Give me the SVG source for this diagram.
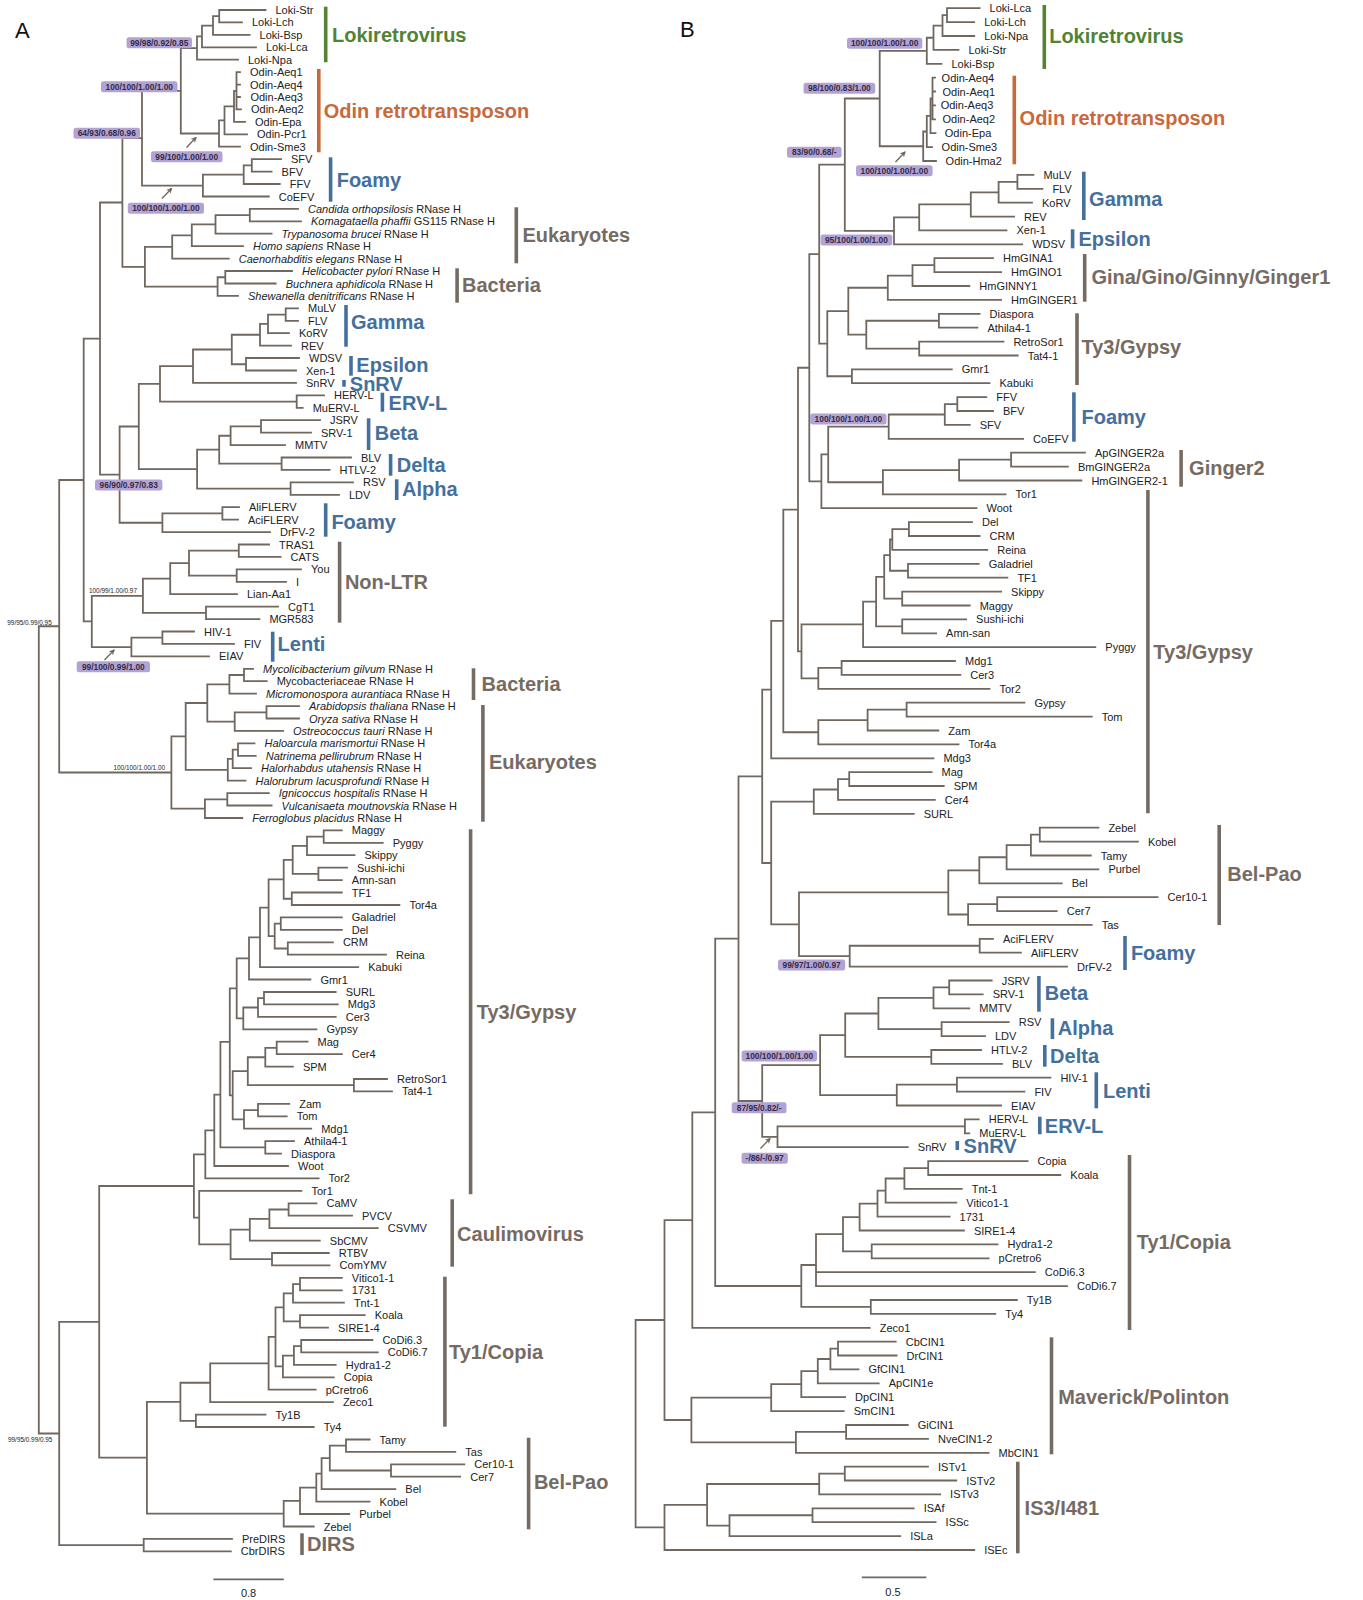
<svg xmlns="http://www.w3.org/2000/svg" width="1363" height="1600" viewBox="0 0 1363 1600">
<style>
.br{fill:none;stroke:#70675f;stroke-width:1.8;stroke-linecap:square}
.lf{font-family:"Liberation Sans",Arial,sans-serif;font-size:11px;fill:#222;dominant-baseline:central}
.it{font-style:italic}
.gl{font-family:"Liberation Sans",Arial,sans-serif;font-size:20px;font-weight:bold;dominant-baseline:central}
.bar{stroke-width:3.6}
.gr{fill:#548235;stroke:#548235}
.or{fill:#c8693c;stroke:#c8693c}
.bl{fill:#44709e;stroke:#44709e}
.bn{fill:#766b62;stroke:#766b62}
text.gr,text.or,text.bl,text.bn{stroke:none}
.bd rect{fill:#b3a3d4}
.bd text{font-family:"Liberation Sans",Arial,sans-serif;font-size:8.4px;font-weight:bold;fill:#352c42;text-anchor:middle;dominant-baseline:central}
.sm{font-family:"Liberation Sans",Arial,sans-serif;font-size:6.4px;fill:#222;dominant-baseline:central}
.ar{stroke:#70675f;stroke-width:1.3;fill:none}
.pl{font-family:"Liberation Sans",Arial,sans-serif;font-size:22px;fill:#111;dominant-baseline:central}
</style>
<defs>
<marker id="ah" viewBox="0 0 10 10" refX="8" refY="5" markerWidth="6" markerHeight="6" orient="auto" markerUnits="userSpaceOnUse"><path d="M0 0L10 5L0 10L3 5Z" fill="#70675f"/></marker>
</defs>
<rect width="1363" height="1600" fill="#fff"/>
<text class="pl" x="15" y="30">A</text>
<text class="pl" x="680" y="29">B</text>

<g id="connectors">
<path class="br" d="M219.2 10V22.4M219.2 10H265.5M219.2 22.4H242M213 16.2V34.9M213 16.2H219.2M213 34.9H249.6M202 25.55V47.3M202 25.55H213M202 47.3H256M197 36.4V59.7M197 36.4H202M197 59.7H238
M236.5 72.2V109.4M236.5 72.2H240M236.5 84.6H240M236.5 97H240M236.5 109.4H241M234 90.8V121.9M234 90.8H236.5M234 121.9H245M224.5 106.35V134.3M224.5 106.35H234M224.5 134.3H247M219 120.3V146.7M219 120.3H224.5M219 146.7H240M180.8 48.05V133.5M180.8 48.05H197M180.8 133.5H219
M251.8 159.2V171.6M251.8 159.2H281M251.8 171.6H271.6M243.7 165.4V184M243.7 165.4H251.8M243.7 184H279.8M202.9 174.7V196.5M202.9 174.7H243.7M202.9 196.5H268.8M142 90.8V185.6M142 90.8H180.8M142 185.6H202.9
M249.8 208.9V221.3M249.8 208.9H298M249.8 221.3H301M215.5 215.1V233.7M215.5 215.1H249.8M215.5 233.7H271.6M191.8 224.4V246.2M191.8 224.4H215.5M191.8 246.2H243M172.2 235.3V258.6M172.2 235.3H191.8M172.2 258.6H228.8
M225.3 271V283.5M225.3 271H292M225.3 283.5H275.7M217.6 277.25V295.9M217.6 277.25H225.3M217.6 295.9H238M144.9 246.95V286.6M144.9 246.95H172.2M144.9 286.6H217.6M122.4 138.2V266.8M122.4 138.2H142M122.4 266.8H144.9
M285.7 308.3V320.8M285.7 308.3H298M285.7 320.8H298M268 314.55V333.2M268 314.55H285.7M268 333.2H289M260 323.9V345.6M260 323.9H268M260 345.6H291M246 358V370.5M246 358H299M246 370.5H296M231.8 334.75V364.25M231.8 334.75H260M231.8 364.25H246M193 349.5V382.9M193 349.5H231.8M193 382.9H296
M296.7 395.3V407.8M296.7 395.3H324M296.7 407.8H302.7M160 366.2V401.55M160 366.2H193M160 401.55H296.7
M261 420.2V432.6M261 420.2H320M261 432.6H311M230.6 426.4V445.1M230.6 426.4H261M230.6 445.1H285M281.6 457.5V469.9M281.6 457.5H351M281.6 469.9H329.6M219.2 435.75V463.7M219.2 435.75H230.6M219.2 463.7H281.6M290.6 482.3V494.8M290.6 482.3H353M290.6 494.8H339M197.1 449.7V488.55M197.1 449.7H219.2M197.1 488.55H290.6M138.8 383.9V469.1M138.8 383.9H160M138.8 469.1H197.1
M222.4 507.2V519.6M222.4 507.2H239M222.4 519.6H238M162.4 513.4V532.1M162.4 513.4H222.4M162.4 532.1H270M119.6 426.5V522.75M119.6 426.5H138.8M119.6 522.75H162.4M100 202.5V474.6M100 202.5H122.4M100 474.6H119.6
M238.8 544.5V556.9M238.8 544.5H269M238.8 556.9H280.6M236.7 569.4V581.8M236.7 569.4H301M236.7 581.8H286M189 550.7V575.6M189 550.7H238.8M189 575.6H236.7M170.2 563.15V594.2M170.2 563.15H189M170.2 594.2H237M206 606.6V619.1M206 606.6H278M206 619.1H259.4M142.9 578.7V612.85M142.9 578.7H170.2M142.9 612.85H206
M162.4 631.5V643.9M162.4 631.5H194M162.4 643.9H234M131.4 637.7V656.4M131.4 637.7H162.4M131.4 656.4H209M91.8 595.8V647.05M91.8 595.8H142.9M91.8 647.05H131.4M83.7 338.55V621.4M83.7 338.55H100M83.7 621.4H91.8
M244 668.8V681.2M244 668.8H253M244 681.2H266.7M229.4 675V693.7M229.4 675H244M229.4 693.7H256M266.5 706.1V718.5M266.5 706.1H299M266.5 718.5H299M234.7 712.3V730.9M234.7 712.3H266.5M234.7 730.9H283M207.3 684.35V721.6M207.3 684.35H229.4M207.3 721.6H234.7
M238 743.4V755.8M238 743.4H254.5M238 755.8H255.7M232.7 749.6V768.2M232.7 749.6H238M232.7 768.2H251M227.8 758.9V780.7M227.8 758.9H232.7M227.8 780.7H245.5M185.7 703V769.8M185.7 703H207.3M185.7 769.8H227.8
M227.3 793.1V805.5M227.3 793.1H268.8M227.3 805.5H271.6M204.9 799.3V818M204.9 799.3H227.3M204.9 818H242.2M171.4 736.4V808.65M171.4 736.4H185.7M171.4 808.65H204.9M59.2 480V772.5M59.2 480H83.7M59.2 772.5H171.4
M323.7 830.4V842.8M323.7 830.4H341.8M323.7 842.8H382.7M307 836.6V855.2M307 836.6H323.7M307 855.2H354.5M318.4 867.7V880.1M318.4 867.7H347M318.4 880.1H341.8M292.7 845.9V873.9M292.7 845.9H307M292.7 873.9H318.4M291.8 892.5V905M291.8 892.5H341.8M291.8 905H399.4M283.7 859.9V898.75M283.7 859.9H292.7M283.7 898.75H291.8
M280.8 917.4V929.8M280.8 917.4H341.8M280.8 929.8H341.8M287.8 942.3V954.7M287.8 942.3H332.9M287.8 954.7H386M274.7 923.6V948.5M274.7 923.6H280.8M274.7 948.5H287.8M268.6 879.3V936.05M268.6 879.3H283.7M268.6 936.05H274.7M260 907.7V967.1M260 907.7H268.6M260 967.1H358.2M249 937.4V979.5M249 937.4H260M249 979.5H310.4
M264 992V1004.4M264 992H335.7M264 1004.4H337.8M258 998.2V1016.8M258 998.2H264M258 1016.8H335.7M243.3 1007.5V1029.3M243.3 1007.5H258M243.3 1029.3H316.5M236.7 958.45V1018.4M236.7 958.45H249M236.7 1018.4H243.3
M276.7 1041.7V1054.1M276.7 1041.7H307.6M276.7 1054.1H341.8M265.3 1047.9V1066.6M265.3 1047.9H276.7M265.3 1066.6H292.9M353.9 1079V1091.4M353.9 1079H387M353.9 1091.4H392M247.8 1057.25V1085.2M247.8 1057.25H265.3M247.8 1085.2H353.9
M258 1103.8V1116.3M258 1103.8H289.2M258 1116.3H286.7M244 1110.05V1128.7M244 1110.05H258M244 1128.7H311.2M232.7 1071.2V1119.4M232.7 1071.2H247.8M232.7 1119.4H244M229.8 988.4V1095.3M229.8 988.4H236.7M229.8 1095.3H232.7
M265.3 1141.1V1153.6M265.3 1141.1H294M265.3 1153.6H281M220.4 1041.85V1147.35M220.4 1041.85H229.8M220.4 1147.35H265.3M214.3 1094.6V1166M214.3 1094.6H220.4M214.3 1166H288M205.3 1130.3V1178.4M205.3 1130.3H214.3M205.3 1178.4H318.6
M288.6 1203.3V1215.7M288.6 1203.3H316.5M288.6 1215.7H352M269.4 1209.5V1228.1M269.4 1209.5H288.6M269.4 1228.1H377.8M249.8 1218.8V1240.6M249.8 1218.8H269.4M249.8 1240.6H319.8M272 1253V1265.4M272 1253H328.8M272 1265.4H329.6M230.6 1229.7V1259.2M230.6 1229.7H249.8M230.6 1259.2H272M199.2 1190.9V1244.45M199.2 1190.9H301.4M199.2 1244.45H230.6M193.9 1154.35V1217.7M193.9 1154.35H205.3M193.9 1217.7H199.2
M300 1277.9V1290.3M300 1277.9H341.8M300 1290.3H341.8M293 1284.1V1302.7M293 1284.1H300M293 1302.7H343.9M300 1315.2V1327.6M300 1315.2H364.7M300 1327.6H328M283.7 1293.4V1321.4M283.7 1293.4H293M283.7 1321.4H300
M301.2 1340V1352.4M301.2 1340H372.4M301.2 1352.4H377.8M293.9 1346.2V1364.9M293.9 1346.2H301.2M293.9 1364.9H335.7M282.9 1355.55V1377.3M282.9 1355.55H293.9M282.9 1377.3H333.7M275.5 1307.4V1366.4M275.5 1307.4H283.7M275.5 1366.4H282.9M268.6 1336.9V1389.7M268.6 1336.9H275.5M268.6 1389.7H315.7M210.2 1363.3V1402.2M210.2 1363.3H268.6M210.2 1402.2H332.9
M195.9 1414.6V1427M195.9 1414.6H265.5M195.9 1427H313.7M180.4 1382.75V1420.8M180.4 1382.75H210.2M180.4 1420.8H195.9
M346 1439.5V1451.9M346 1439.5H369.6M346 1451.9H455.3M391 1464.3V1476.7M391 1464.3H464.3M391 1476.7H460.2M329.8 1445.7V1470.5M329.8 1445.7H346M329.8 1470.5H391M321.6 1458.1V1489.2M321.6 1458.1H329.8M321.6 1489.2H395.3M316.3 1473.65V1501.6M316.3 1473.65H321.6M316.3 1501.6H369.6M300 1487.6V1514M300 1487.6H316.3M300 1514H349.2M283.7 1500.8V1526.5M283.7 1500.8H300M283.7 1526.5H313.7
M146.9 1401.8V1513.65M146.9 1401.8H180.4M146.9 1513.65H283.7M99.2 1186V1457.7M99.2 1186H193.9M99.2 1457.7H146.9M143.7 1538.9V1551.3M143.7 1538.9H232M143.7 1551.3H230.8M59.2 1321.85V1545.1M59.2 1321.85H99.2M59.2 1545.1H143.7M38.8 626.25V1433.5M38.8 626.25H59.2M38.8 1433.5H59.2"/>
<path class="br" d="M947 8.2V22.1M947 8.2H979.6M947 22.1H974.2M942.5 15.15V36M942.5 15.15H947M942.5 36H974.2M933.5 25.6V49.9M933.5 25.6H942.5M933.5 49.9H958.5M926.8 37.75V63.8M926.8 37.75H933.5M926.8 63.8H941.5
M932.5 77.7V119.3M932.5 77.7H935M932.5 91.5H935M932.5 105.4H935M932.5 119.3H935M930.5 98.5V133.2M930.5 98.5H932.5M930.5 133.2H935.5M926.8 115.85V147.1M926.8 115.85H930.5M926.8 147.1H932M923.2 131.5V161M923.2 131.5H926.8M923.2 161H936M879.7 50.8V146.25M879.7 50.8H926.8M879.7 146.25H923.2
M1017.4 174.9V188.8M1017.4 174.9H1033.4M1017.4 188.8H1042.4M998.6 181.85V202.7M998.6 181.85H1017.4M998.6 202.7H1032M970.8 192.3V216.6M970.8 192.3H998.6M970.8 216.6H1014.1M919.2 204.45V230.4M919.2 204.45H970.8M919.2 230.4H1006.5M894 217.4V244.3M894 217.4H919.2M894 244.3H1022.2M844.8 98.5V230.85M844.8 98.5H879.7M844.8 230.85H894
M934.4 258.2V272.1M934.4 258.2H993M934.4 272.1H1001.1M912.5 265.15V286M912.5 265.15H934.4M912.5 286H969.3M887.8 275.6V299.9M887.8 275.6H912.5M887.8 299.9H1001.1
M938.9 313.8V327.7M938.9 313.8H979.6M938.9 327.7H977.4M919.2 341.6V355.5M919.2 341.6H1003.4M919.2 355.5H1017.7M866.3 320.75V348.55M866.3 320.75H938.9M866.3 348.55H919.2M848.3 287.75V334.65M848.3 287.75H887.8M848.3 334.65H866.3
M851.9 369.3V383.2M851.9 369.3H951.8M851.9 383.2H989.5M827.3 311.2V376.25M827.3 311.2H848.3M827.3 376.25H851.9M819.2 164.7V343.7M819.2 164.7H844.8M819.2 343.7H827.3
M957.3 397.1V411M957.3 397.1H986.3M957.3 411H993M944.8 404.05V424.9M944.8 404.05H957.3M944.8 424.9H969.7M888.7 414.5V438.8M888.7 414.5H944.8M888.7 438.8H1023.1
M1011.1 452.7V466.6M1011.1 452.7H1085M1011.1 466.6H1067.9M959.1 459.65V480.5M959.1 459.65H1011.1M959.1 480.5H1081.4M882.9 470.1V494.4M882.9 470.1H959.1M882.9 494.4H1005.6M828.2 426.65V482.25M828.2 426.65H888.7M828.2 482.25H882.9M821.4 454.45V508.2M821.4 454.45H828.2M821.4 508.2H976.5M809.3 254.2V481.3M809.3 254.2H819.2M809.3 481.3H821.4
M908.9 522.1V536M908.9 522.1H972M908.9 536H979.6M892.3 529.05V549.9M892.3 529.05H908.9M892.3 549.9H987.2M908 563.8V577.7M908 563.8H978.7M908 577.7H1007.4M890 539.5V570.75M890 539.5H892.3M890 570.75H908M902.2 591.6V605.5M902.2 591.6H1001.1M902.2 605.5H969.7M884.2 555.1V598.55M884.2 555.1H890M884.2 598.55H902.2
M902.2 619.4V633.3M902.2 619.4H966.1M902.2 633.3H936.1M876.1 576.8V626.35M876.1 576.8H884.2M876.1 626.35H902.2M863.1 601.6V647.1M863.1 601.6H876.1M863.1 647.1H1095.3M841.6 661V674.9M841.6 661H955M841.6 674.9H960.3M818.3 667.95V688.8M818.3 667.95H841.6M818.3 688.8H989.5M801.5 624.35V678.4M801.5 624.35H863.1M801.5 678.4H818.3M798 367.75V651.4M798 367.75H809.3M798 651.4H801.5
M906.6 702.7V716.6M906.6 702.7H1024.4M906.6 716.6H1091.7M867.6 709.65V730.5M867.6 709.65H906.6M867.6 730.5H938.3M818.3 720.1V744.4M818.3 720.1H867.6M818.3 744.4H958.5M783.3 509.6V732.25M783.3 509.6H798M783.3 732.25H818.3M771.2 620.9V758.3M771.2 620.9H783.3M771.2 758.3H933.4
M849.2 772.2V786M849.2 772.2H931.6M849.2 786H943.7M838 779.1V799.9M838 779.1H849.2M838 799.9H934.8M813.8 789.5V813.8M813.8 789.5H838M813.8 813.8H913.7
M1039.8 827.7V841.6M1039.8 827.7H1098.4M1039.8 841.6H1137.9M1030.9 834.65V855.5M1030.9 834.65H1039.8M1030.9 855.5H1090.8M1006.6 845.1V869.4M1006.6 845.1H1030.9M1006.6 869.4H1098.4M979.3 857.25V883.3M979.3 857.25H1006.6M979.3 883.3H1061.7
M997.2 897.2V911.1M997.2 897.2H1157.6M997.2 911.1H1056.7M968.1 904.15V924.9M968.1 904.15H997.2M968.1 924.9H1091.7M948.3 870.3V914.5M948.3 870.3H979.3M948.3 914.5H968.1
M979.7 938.8V952.7M979.7 938.8H993M979.7 952.7H1020.9M849.7 945.75V966.6M849.7 945.75H979.7M849.7 966.6H1067M799 892.4V956.2M799 892.4H948.3M799 956.2H849.7M771.2 801.65V924.3M771.2 801.65H813.8M771.2 924.3H799M762.2 689.6V863M762.2 689.6H771.2M762.2 863H771.2
M949.2 980.5V994.4M949.2 980.5H991.7M949.2 994.4H982.7M933.5 987.45V1008.3M933.5 987.45H949.2M933.5 1008.3H969.3M941.6 1022.2V1036.1M941.6 1022.2H1008.7M941.6 1036.1H985M878.4 997.9V1029.15M878.4 997.9H933.5M878.4 1029.15H941.6
M931.3 1050V1063.8M931.3 1050H981M931.3 1063.8H1002M845.2 1013.5V1056.9M845.2 1013.5H878.4M845.2 1056.9H931.3M956.9 1077.7V1091.6M956.9 1077.7H1050.4M956.9 1091.6H1024.4M896.8 1084.65V1105.5M896.8 1084.65H956.9M896.8 1105.5H1001.1M820.1 1035.2V1095.1M820.1 1035.2H845.2M820.1 1095.1H896.8
M964.9 1119.4V1133.3M964.9 1119.4H978.7M964.9 1133.3H969.3M777.5 1126.35V1147.2M777.5 1126.35H964.9M777.5 1147.2H907.8M762.2 1065.15V1136.8M762.2 1065.15H820.1M762.2 1136.8H777.5M738.5 776.3V1101M738.5 776.3H762.2M738.5 1101H762.2
M928.2 1161.1V1175M928.2 1161.1H1027.6M928.2 1175H1060.3M904.4 1168.05V1188.9M904.4 1168.05H928.2M904.4 1188.9H961.7M885.6 1178.5V1202.7M885.6 1178.5H904.4M885.6 1202.7H956.3M877.5 1190.6V1216.6M877.5 1190.6H885.6M877.5 1216.6H949.6M859.6 1203.6V1230.5M859.6 1203.6H877.5M859.6 1230.5H963.9
M871.7 1244.4V1258.3M871.7 1244.4H997.5M871.7 1258.3H988.6M843 1217.05V1251.35M843 1217.05H859.6M843 1251.35H871.7M816 1234.2V1286.1M816 1234.2H843M816 1272.2H1034.8M816 1286.1H1067
M870.8 1300V1313.9M870.8 1300H1016.8M870.8 1313.9H995.3M801.3 1265V1306.95M801.3 1265H816M801.3 1306.95H870.8M715.2 938.65V1286M715.2 938.65H738.5M715.2 1286H801.3M692.3 1112.3V1327.8M692.3 1112.3H715.2M692.3 1327.8H869.7
M838 1341.6V1355.5M838 1341.6H895.7M838 1355.5H896.6M830.4 1348.55V1369.4M830.4 1348.55H838M830.4 1369.4H858.5M817.8 1359V1383.3M817.8 1359H830.4M817.8 1383.3H878.7M801.3 1371.15V1397.2M801.3 1371.15H817.8M801.3 1397.2H845.1M771.2 1384.2V1411.1M771.2 1384.2H801.3M771.2 1411.1H843.7
M846.1 1425V1438.9M846.1 1425H907.8M846.1 1438.9H928M795.9 1431.95V1452.8M795.9 1431.95H846.1M795.9 1452.8H988.6M691.4 1397.65V1442.4M691.4 1397.65H771.2M691.4 1442.4H795.9M664.5 1220.05V1420M664.5 1220.05H692.3M664.5 1420H691.4
M844.8 1466.7V1480.5M844.8 1466.7H928M844.8 1480.5H956.3M819.2 1473.6V1494.4M819.2 1473.6H844.8M819.2 1494.4H940.1M812.5 1508.3V1522.2M812.5 1508.3H913.7M812.5 1522.2H935.6M729.5 1515.25V1536.1M729.5 1515.25H812.5M729.5 1536.1H900.2M707.1 1484V1525.7M707.1 1484H819.2M707.1 1525.7H729.5M664.5 1504.85V1550M664.5 1504.85H707.1M664.5 1550H974.2M635.6 1320V1527.4M635.6 1320H664.5M635.6 1527.4H664.5"/>
<path class="br" d="M214.3 1579.3H282.9M862.7 1577.3H925.5"/>
<g id="arrows">
<path class="ar" marker-end="url(#ah)" d="M186.5 147.5L196 137.5"/>
<path class="ar" marker-end="url(#ah)" d="M162 198.5L171.5 188.5"/>
<path class="ar" marker-end="url(#ah)" d="M104.5 660L114 650"/>
<path class="ar" marker-end="url(#ah)" d="M895.5 162L905 152"/>
<path class="ar" marker-end="url(#ah)" d="M760.5 1148.5L770 1138.5"/>
</g>
</g>

<g id="scale">
<text class="lf" x="248.6" y="1593.3" text-anchor="middle">0.8</text>
<text class="lf" x="893" y="1591.7" text-anchor="middle">0.5</text>
</g>

<g id="leaves-A" class="lf">
<text x="275.5" y="10">Loki-Str</text><text x="252" y="22.4">Loki-Lch</text><text x="259.6" y="34.9">Loki-Bsp</text><text x="266" y="47.3">Loki-Lca</text><text x="248" y="59.7">Loki-Npa</text>
<text x="250" y="72.2">Odin-Aeq1</text><text x="250" y="84.6">Odin-Aeq4</text><text x="250.4" y="97">Odin-Aeq3</text><text x="251" y="109.4">Odin-Aeq2</text><text x="255" y="121.9">Odin-Epa</text><text x="257" y="134.3">Odin-Pcr1</text><text x="250" y="146.7">Odin-Sme3</text>
<text x="291" y="159.2">SFV</text><text x="281.6" y="171.6">BFV</text><text x="289.8" y="184">FFV</text><text x="278.8" y="196.5">CoEFV</text>
<text x="308" y="208.9"><tspan class="it">Candida orthopsilosis</tspan> RNase H</text>
<text x="311" y="221.3"><tspan class="it">Komagataella phaffii</tspan> GS115 RNase H</text>
<text x="281.6" y="233.7"><tspan class="it">Trypanosoma brucei</tspan> RNase H</text>
<text x="253" y="246.2"><tspan class="it">Homo sapiens</tspan> RNase H</text>
<text x="238.8" y="258.6"><tspan class="it">Caenorhabditis elegans</tspan> RNase H</text>
<text x="302" y="271"><tspan class="it">Helicobacter pylori</tspan> RNase H</text>
<text x="285.7" y="283.5"><tspan class="it">Buchnera aphidicola</tspan> RNase H</text>
<text x="248" y="295.9"><tspan class="it">Shewanella denitrificans</tspan> RNase H</text>
<text x="308" y="308.3">MuLV</text><text x="308" y="320.8">FLV</text><text x="299" y="333.2">KoRV</text><text x="301" y="345.6">REV</text><text x="309" y="358">WDSV</text><text x="306" y="370.5">Xen-1</text><text x="306" y="382.9">SnRV</text><text x="334" y="395.3">HERV-L</text><text x="312.7" y="407.8">MuERV-L</text><text x="330" y="420.2">JSRV</text><text x="321" y="432.6">SRV-1</text><text x="295" y="445.1">MMTV</text><text x="361" y="457.5">BLV</text><text x="339.6" y="469.9">HTLV-2</text><text x="363" y="482.3">RSV</text><text x="349" y="494.8">LDV</text>
<text x="249" y="507.2">AliFLERV</text><text x="248" y="519.6">AciFLERV</text><text x="280" y="532.1">DrFV-2</text>
<text x="279" y="544.5">TRAS1</text><text x="290.6" y="556.9">CATS</text><text x="311" y="569.4">You</text><text x="296" y="581.8">I</text><text x="247" y="594.2">Lian-Aa1</text><text x="288" y="606.6">CgT1</text><text x="269.4" y="619.1">MGR583</text>
<text x="204" y="631.5">HIV-1</text><text x="244" y="643.9">FIV</text><text x="219" y="656.4">EIAV</text>
<text x="263" y="668.8"><tspan class="it">Mycolicibacterium gilvum</tspan> RNase H</text>
<text x="276.7" y="681.2">Mycobacteriaceae RNase H</text>
<text x="266" y="693.7"><tspan class="it">Micromonospora aurantiaca</tspan> RNase H</text>
<text x="309" y="706.1"><tspan class="it">Arabidopsis thaliana</tspan> RNase H</text>
<text x="309" y="718.5"><tspan class="it">Oryza sativa</tspan> RNase H</text>
<text x="293" y="730.9"><tspan class="it">Ostreococcus tauri</tspan> RNase H</text>
<text x="264.5" y="743.4"><tspan class="it">Haloarcula marismortui</tspan> RNase H</text>
<text x="265.7" y="755.8"><tspan class="it">Natrinema pellirubrum</tspan> RNase H</text>
<text x="261" y="768.2"><tspan class="it">Halorhabdus utahensis</tspan> RNase H</text>
<text x="255.5" y="780.7"><tspan class="it">Halorubrum lacusprofundi</tspan> RNase H</text>
<text x="278.8" y="793.1"><tspan class="it">Ignicoccus hospitalis</tspan> RNase H</text>
<text x="281.6" y="805.5"><tspan class="it">Vulcanisaeta moutnovskia</tspan> RNase H</text>
<text x="252.2" y="818"><tspan class="it">Ferroglobus placidus</tspan> RNase H</text>
<text x="351.8" y="830.4">Maggy</text><text x="392.7" y="842.8">Pyggy</text><text x="364.5" y="855.2">Skippy</text><text x="357" y="867.7">Sushi-ichi</text><text x="351.8" y="880.1">Amn-san</text><text x="351.8" y="892.5">TF1</text><text x="409.4" y="905">Tor4a</text><text x="351.8" y="917.4">Galadriel</text><text x="351.8" y="929.8">Del</text><text x="342.9" y="942.3">CRM</text><text x="396" y="954.7">Reina</text><text x="368.2" y="967.1">Kabuki</text><text x="320.4" y="979.5">Gmr1</text><text x="345.7" y="992">SURL</text><text x="347.8" y="1004.4">Mdg3</text><text x="345.7" y="1016.8">Cer3</text><text x="326.5" y="1029.3">Gypsy</text><text x="317.6" y="1041.7">Mag</text><text x="351.8" y="1054.1">Cer4</text><text x="302.9" y="1066.6">SPM</text><text x="397" y="1079">RetroSor1</text><text x="402" y="1091.4">Tat4-1</text><text x="299.2" y="1103.8">Zam</text><text x="296.7" y="1116.3">Tom</text><text x="321.2" y="1128.7">Mdg1</text><text x="304" y="1141.1">Athila4-1</text><text x="291" y="1153.6">Diaspora</text><text x="298" y="1166">Woot</text><text x="328.6" y="1178.4">Tor2</text><text x="311.4" y="1190.9">Tor1</text>
<text x="326.5" y="1203.3">CaMV</text><text x="362" y="1215.7">PVCV</text><text x="387.8" y="1228.1">CSVMV</text><text x="329.8" y="1240.6">SbCMV</text><text x="338.8" y="1253">RTBV</text><text x="339.6" y="1265.4">ComYMV</text>
<text x="351.8" y="1277.9">Vitico1-1</text><text x="351.8" y="1290.3">1731</text><text x="353.9" y="1302.7">Tnt-1</text><text x="374.7" y="1315.2">Koala</text><text x="338" y="1327.6">SIRE1-4</text><text x="382.4" y="1340">CoDi6.3</text><text x="387.8" y="1352.4">CoDi6.7</text><text x="345.7" y="1364.9">Hydra1-2</text><text x="343.7" y="1377.3">Copia</text><text x="325.7" y="1389.7">pCretro6</text><text x="342.9" y="1402.2">Zeco1</text><text x="275.5" y="1414.6">Ty1B</text><text x="323.7" y="1427">Ty4</text>
<text x="379.6" y="1439.5">Tamy</text><text x="465.3" y="1451.9">Tas</text><text x="474.3" y="1464.3">Cer10-1</text><text x="470.2" y="1476.7">Cer7</text><text x="405.3" y="1489.2">Bel</text><text x="379.6" y="1501.6">Kobel</text><text x="359.2" y="1514">Purbel</text><text x="323.7" y="1526.5">Zebel</text><text x="242" y="1538.9">PreDIRS</text><text x="240.8" y="1551.3">CbrDIRS</text>
</g>

<g id="leaves-B" class="lf">
<text x="989.6" y="8.2">Loki-Lca</text><text x="984.2" y="22.1">Loki-Lch</text><text x="984.2" y="36">Loki-Npa</text><text x="968.5" y="49.9">Loki-Str</text><text x="951.5" y="63.8">Loki-Bsp</text>
<text x="941.6" y="77.7">Odin-Aeq4</text><text x="942.5" y="91.5">Odin-Aeq1</text><text x="940.7" y="105.4">Odin-Aeq3</text><text x="942.5" y="119.3">Odin-Aeq2</text><text x="944.8" y="133.2">Odin-Epa</text><text x="941.6" y="147.1">Odin-Sme3</text><text x="945.6" y="161">Odin-Hma2</text>
<text x="1043.4" y="174.9">MuLV</text><text x="1052.4" y="188.8">FLV</text><text x="1042" y="202.7">KoRV</text><text x="1024.1" y="216.6">REV</text><text x="1016.5" y="230.4">Xen-1</text><text x="1032.2" y="244.3">WDSV</text>
<text x="1003" y="258.2">HmGINA1</text><text x="1011.1" y="272.1">HmGINO1</text><text x="979.3" y="286">HmGINNY1</text><text x="1011.1" y="299.9">HmGINGER1</text>
<text x="989.6" y="313.8">Diaspora</text><text x="987.4" y="327.7">Athila4-1</text><text x="1013.4" y="341.6">RetroSor1</text><text x="1027.7" y="355.5">Tat4-1</text><text x="961.8" y="369.3">Gmr1</text><text x="999.5" y="383.2">Kabuki</text>
<text x="996.3" y="397.1">FFV</text><text x="1003" y="411">BFV</text><text x="979.7" y="424.9">SFV</text><text x="1033.1" y="438.8">CoEFV</text>
<text x="1095" y="452.7">ApGINGER2a</text><text x="1077.9" y="466.6">BmGINGER2a</text><text x="1091.4" y="480.5">HmGINGER2-1</text><text x="1015.6" y="494.4">Tor1</text><text x="986.5" y="508.2">Woot</text>
<text x="982" y="522.1">Del</text><text x="989.6" y="536">CRM</text><text x="997.2" y="549.9">Reina</text><text x="988.7" y="563.8">Galadriel</text><text x="1017.4" y="577.7">TF1</text><text x="1011.1" y="591.6">Skippy</text><text x="979.7" y="605.5">Maggy</text><text x="976.1" y="619.4">Sushi-ichi</text><text x="946.1" y="633.3">Amn-san</text><text x="1105.3" y="647.1">Pyggy</text>
<text x="965" y="661">Mdg1</text><text x="970.3" y="674.9">Cer3</text><text x="999.5" y="688.8">Tor2</text><text x="1034.4" y="702.7">Gypsy</text><text x="1101.7" y="716.6">Tom</text><text x="948.3" y="730.5">Zam</text><text x="968.5" y="744.4">Tor4a</text><text x="943.4" y="758.3">Mdg3</text><text x="941.6" y="772.2">Mag</text><text x="953.7" y="786">SPM</text><text x="944.8" y="799.9">Cer4</text><text x="923.7" y="813.8">SURL</text>
<text x="1108.4" y="827.7">Zebel</text><text x="1147.9" y="841.6">Kobel</text><text x="1100.8" y="855.5">Tamy</text><text x="1108.4" y="869.4">Purbel</text><text x="1071.7" y="883.3">Bel</text><text x="1167.6" y="897.2">Cer10-1</text><text x="1066.7" y="911.1">Cer7</text><text x="1101.7" y="924.9">Tas</text>
<text x="1003" y="938.8">AciFLERV</text><text x="1030.9" y="952.7">AliFLERV</text><text x="1077" y="966.6">DrFV-2</text>
<text x="1001.7" y="980.5">JSRV</text><text x="992.7" y="994.4">SRV-1</text><text x="979.3" y="1008.3">MMTV</text><text x="1018.7" y="1022.2">RSV</text><text x="995" y="1036.1">LDV</text><text x="991" y="1050">HTLV-2</text><text x="1012" y="1063.8">BLV</text><text x="1060.4" y="1077.7">HIV-1</text><text x="1034.4" y="1091.6">FIV</text><text x="1011.1" y="1105.5">EIAV</text><text x="988.7" y="1119.4">HERV-L</text><text x="979.3" y="1133.3">MuERV-L</text><text x="917.8" y="1147.2">SnRV</text>
<text x="1037.6" y="1161.1">Copia</text><text x="1070.3" y="1175">Koala</text><text x="971.7" y="1188.9">Tnt-1</text><text x="966.3" y="1202.7">Vitico1-1</text><text x="959.6" y="1216.6">1731</text><text x="973.9" y="1230.5">SIRE1-4</text><text x="1007.5" y="1244.4">Hydra1-2</text><text x="998.6" y="1258.3">pCretro6</text><text x="1044.8" y="1272.2">CoDi6.3</text><text x="1077" y="1286.1">CoDi6.7</text><text x="1026.8" y="1300">Ty1B</text><text x="1005.3" y="1313.9">Ty4</text><text x="879.7" y="1327.8">Zeco1</text>
<text x="905.7" y="1341.6">CbCIN1</text><text x="906.6" y="1355.5">DrCIN1</text><text x="868.5" y="1369.4">GfCIN1</text><text x="888.7" y="1383.3">ApCIN1e</text><text x="855.1" y="1397.2">DpCIN1</text><text x="853.7" y="1411.1">SmCIN1</text><text x="917.8" y="1425">GiCIN1</text><text x="938" y="1438.9">NveCIN1-2</text><text x="998.6" y="1452.8">MbCIN1</text>
<text x="938" y="1466.7">ISTv1</text><text x="966.3" y="1480.5">ISTv2</text><text x="950.1" y="1494.4">ISTv3</text><text x="923.7" y="1508.3">ISAf</text><text x="945.6" y="1522.2">ISSc</text><text x="910.2" y="1536.1">ISLa</text><text x="984.2" y="1550">ISEc</text>
</g>

<g id="groups-A">
<g id="A-loki"><line class="bar gr" x1="325.7" y1="6.7" x2="325.7" y2="62.3"/><text class="gl gr" x="332" y="35">Lokiretrovirus</text></g>
<g id="A-odin"><line class="bar or" x1="318.8" y1="69" x2="318.8" y2="152.3"/><text class="gl or" x="323.7" y="111">Odin retrotransposon</text></g>
<g id="A-foamy1"><line class="bar bl" x1="330.6" y1="157.3" x2="330.6" y2="201.7"/><text class="gl bl" x="336.7" y="180.3">Foamy</text></g>
<g id="A-euk1"><line class="bar bn" x1="516.3" y1="207.3" x2="516.3" y2="263.3"/><text class="gl bn" x="522.4" y="235.3">Eukaryotes</text></g>
<g id="A-bac1"><line class="bar bn" x1="457.1" y1="268.3" x2="457.1" y2="302.7"/><text class="gl bn" x="462" y="285">Bacteria</text></g>
<g id="A-gamma"><line class="bar bl" x1="346" y1="305" x2="346" y2="346.7"/><text class="gl bl" x="351" y="322">Gamma</text></g>
<g id="A-eps"><line class="bar bl" x1="351" y1="356" x2="351" y2="375.7"/><text class="gl bl" x="356.3" y="365">Epsilon</text></g>
<g id="A-snrv"><line class="bar bl" x1="344" y1="380" x2="344" y2="386.7"/><text class="gl bl" x="349.8" y="384">SnRV</text></g>
<g id="A-ervl"><line class="bar bl" x1="382.4" y1="392.7" x2="382.4" y2="411.7"/><text class="gl bl" x="388.6" y="402.7">ERV-L</text></g>
<g id="A-beta"><line class="bar bl" x1="368.6" y1="418.3" x2="368.6" y2="450"/><text class="gl bl" x="374.7" y="433.3">Beta</text></g>
<g id="A-delta"><line class="bar bl" x1="390.6" y1="454" x2="390.6" y2="475.7"/><text class="gl bl" x="396.7" y="465">Delta</text></g>
<g id="A-alpha"><line class="bar bl" x1="396.7" y1="479.3" x2="396.7" y2="500"/><text class="gl bl" x="402" y="489">Alpha</text></g>
<g id="A-foamy2"><line class="bar bl" x1="325.7" y1="503.3" x2="325.7" y2="536.7"/><text class="gl bl" x="331.4" y="521.7">Foamy</text></g>
<g id="A-nonltr"><line class="bar bn" x1="339.6" y1="541.7" x2="339.6" y2="622.7"/><text class="gl bn" x="344.9" y="582.3">Non-LTR</text></g>
<g id="A-lenti"><line class="bar bl" x1="272.7" y1="631.7" x2="272.7" y2="661.7"/><text class="gl bl" x="277.6" y="644">Lenti</text></g>
<g id="A-bac2"><line class="bar bn" x1="473.5" y1="668.3" x2="473.5" y2="700"/><text class="gl bn" x="481.6" y="684">Bacteria</text></g>
<g id="A-euk2"><line class="bar bn" x1="482.9" y1="705" x2="482.9" y2="821.7"/><text class="gl bn" x="489" y="762.3">Eukaryotes</text></g>
<g id="A-ty3"><line class="bar bn" x1="470.6" y1="829.3" x2="470.6" y2="1194.3"/><text class="gl bn" x="476.7" y="1011.7">Ty3/Gypsy</text></g>
<g id="A-caul"><line class="bar bn" x1="452.2" y1="1199.3" x2="452.2" y2="1266.7"/><text class="gl bn" x="457.1" y="1234.3">Caulimovirus</text></g>
<g id="A-ty1"><line class="bar bn" x1="444.9" y1="1276.7" x2="444.9" y2="1426.7"/><text class="gl bn" x="449" y="1351.7">Ty1/Copia</text></g>
<g id="A-belpao"><line class="bar bn" x1="528.6" y1="1437.7" x2="528.6" y2="1529.3"/><text class="gl bn" x="533.9" y="1481.7">Bel-Pao</text></g>
<g id="A-dirs"><line class="bar bn" x1="302" y1="1533.3" x2="302" y2="1555"/><text class="gl bn" x="307" y="1544">DIRS</text></g>
</g>

<g id="groups-B">
<g id="B-loki"><line class="bar gr" x1="1044.3" y1="5" x2="1044.3" y2="69"/><text class="gl gr" x="1049.2" y="36">Lokiretrovirus</text></g>
<g id="B-odin"><line class="bar or" x1="1014.3" y1="75.7" x2="1014.3" y2="164.3"/><text class="gl or" x="1019.6" y="118.3">Odin retrotransposon</text></g>
<g id="B-gamma"><line class="bar bl" x1="1083.8" y1="171.7" x2="1083.8" y2="220"/><text class="gl bl" x="1089.1" y="199.3">Gamma</text></g>
<g id="B-eps"><line class="bar bl" x1="1072.6" y1="229.3" x2="1072.6" y2="248.3"/><text class="gl bl" x="1078.4" y="239">Epsilon</text></g>
<g id="B-gina"><line class="bar bn" x1="1084.7" y1="254" x2="1084.7" y2="301.7"/><text class="gl bn" x="1091.4" y="277.3">Gina/Gino/Ginny/Ginger1</text></g>
<g id="B-ty3a"><line class="bar bn" x1="1077" y1="313.3" x2="1077" y2="385"/><text class="gl bn" x="1081.5" y="346.7">Ty3/Gypsy</text></g>
<g id="B-foamy1"><line class="bar bl" x1="1073.9" y1="392.3" x2="1073.9" y2="441.7"/><text class="gl bl" x="1081.5" y="416.7">Foamy</text></g>
<g id="B-ginger2"><line class="bar bn" x1="1181.1" y1="450" x2="1181.1" y2="486.7"/><text class="gl bn" x="1189.1" y="468.3">Ginger2</text></g>
<g id="B-ty3b"><line class="bar bn" x1="1147.9" y1="490" x2="1147.9" y2="813.3"/><text class="gl bn" x="1153.3" y="651.7">Ty3/Gypsy</text></g>
<g id="B-belpao"><line class="bar bn" x1="1219.2" y1="825" x2="1219.2" y2="925"/><text class="gl bn" x="1227.3" y="874.3">Bel-Pao</text></g>
<g id="B-foamy2"><line class="bar bl" x1="1125" y1="936" x2="1125" y2="970"/><text class="gl bl" x="1130.9" y="953.3">Foamy</text></g>
<g id="B-beta"><line class="bar bl" x1="1038.9" y1="976" x2="1038.9" y2="1011.7"/><text class="gl bl" x="1044.8" y="993.3">Beta</text></g>
<g id="B-alpha"><line class="bar bl" x1="1052.4" y1="1018.3" x2="1052.4" y2="1039"/><text class="gl bl" x="1057.8" y="1028.3">Alpha</text></g>
<g id="B-delta"><line class="bar bl" x1="1044.8" y1="1045" x2="1044.8" y2="1066.7"/><text class="gl bl" x="1050.1" y="1056">Delta</text></g>
<g id="B-lenti"><line class="bar bl" x1="1096.3" y1="1072.3" x2="1096.3" y2="1108.3"/><text class="gl bl" x="1103" y="1090.7">Lenti</text></g>
<g id="B-ervl"><line class="bar bl" x1="1039.8" y1="1116.7" x2="1039.8" y2="1134.3"/><text class="gl bl" x="1044.8" y="1125.7">ERV-L</text></g>
<g id="B-snrv"><line class="bar bl" x1="957.3" y1="1141" x2="957.3" y2="1150"/><text class="gl bl" x="963.6" y="1146">SnRV</text></g>
<g id="B-ty1"><line class="bar bn" x1="1129.5" y1="1155" x2="1129.5" y2="1330"/><text class="gl bn" x="1136.7" y="1242.3">Ty1/Copia</text></g>
<g id="B-mav"><line class="bar bn" x1="1051.5" y1="1337.3" x2="1051.5" y2="1454.3"/><text class="gl bn" x="1058.2" y="1396.7">Maverick/Polinton</text></g>
<g id="B-is3"><line class="bar bn" x1="1017.8" y1="1461.7" x2="1017.8" y2="1553.3"/><text class="gl bn" x="1024.6" y="1507.7">IS3/I481</text></g>
</g>

<g id="support-A">
<g class="bd"><rect x="126.5" y="37.2" width="65.5" height="11" rx="2.5"/><text x="159.25" y="42.7">99/98/0.92/0.85</text></g>
<g class="bd"><rect x="101" y="81.2" width="76.5" height="11" rx="2.5"/><text x="139.25" y="86.7">100/100/1.00/1.00</text></g>
<g class="bd"><rect x="73.5" y="127.8" width="66.5" height="11" rx="2.5"/><text x="106.75" y="133.3">64/93/0.68/0.96</text></g>
<g class="bd"><rect x="151" y="151.2" width="71.5" height="11" rx="2.5"/><text x="186.75" y="156.7">99/100/1.00/1.00</text></g>
<g class="bd"><rect x="127.8" y="202.8" width="76.2" height="11" rx="2.5"/><text x="165.9" y="208.3">100/100/1.00/1.00</text></g>
<g class="bd"><rect x="95" y="479.5" width="67.4" height="11" rx="2.5"/><text x="128.7" y="485">96/90/0.97/0.83</text></g>
<g class="bd"><rect x="76.7" y="661.2" width="73.3" height="11" rx="2.5"/><text x="113.35" y="666.7">99/100/0.99/1.00</text></g>
<text class="sm" x="89" y="590.7">100/99/1.00/0.97</text>
<text class="sm" x="113.5" y="767.7">100/100/1.00/1.00</text>
<text class="sm" x="7.3" y="622">99/95/0.99/0.95</text>
<text class="sm" x="8" y="1439.3">99/95/0.99/0.95</text>
</g>
<g id="support-B">
<g class="bd"><rect x="847" y="37.8" width="75.3" height="11" rx="2.5"/><text x="884.65" y="43.3">100/100/1.00/1.00</text></g>
<g class="bd"><rect x="803.5" y="82.8" width="71.7" height="11" rx="2.5"/><text x="839.35" y="88.3">98/100/0.83/1.00</text></g>
<g class="bd"><rect x="787" y="146.8" width="54.6" height="11" rx="2.5"/><text x="814.3" y="152.3">83/90/0.68/-</text></g>
<g class="bd"><rect x="856" y="165.2" width="76.6" height="11" rx="2.5"/><text x="894.3" y="170.7">100/100/1.00/1.00</text></g>
<g class="bd"><rect x="820.5" y="234.5" width="71.8" height="11" rx="2.5"/><text x="856.4" y="240">95/100/1.00/1.00</text></g>
<g class="bd"><rect x="810.2" y="413.5" width="76.3" height="11" rx="2.5"/><text x="848.35" y="419">100/100/1.00/1.00</text></g>
<g class="bd"><rect x="778" y="959.5" width="67.2" height="11" rx="2.5"/><text x="811.6" y="965">99/97/1.00/0.97</text></g>
<g class="bd"><rect x="741.6" y="1050.5" width="75.4" height="11" rx="2.5"/><text x="779.3" y="1056">100/100/1.00/1.00</text></g>
<g class="bd"><rect x="731.7" y="1102.2" width="54.8" height="11" rx="2.5"/><text x="759.1" y="1107.7">87/95/0.82/-</text></g>
<g class="bd"><rect x="741.6" y="1152.8" width="46.2" height="11" rx="2.5"/><text x="764.7" y="1158.3">-/86/-/0.97</text></g>
</g>
</svg>
